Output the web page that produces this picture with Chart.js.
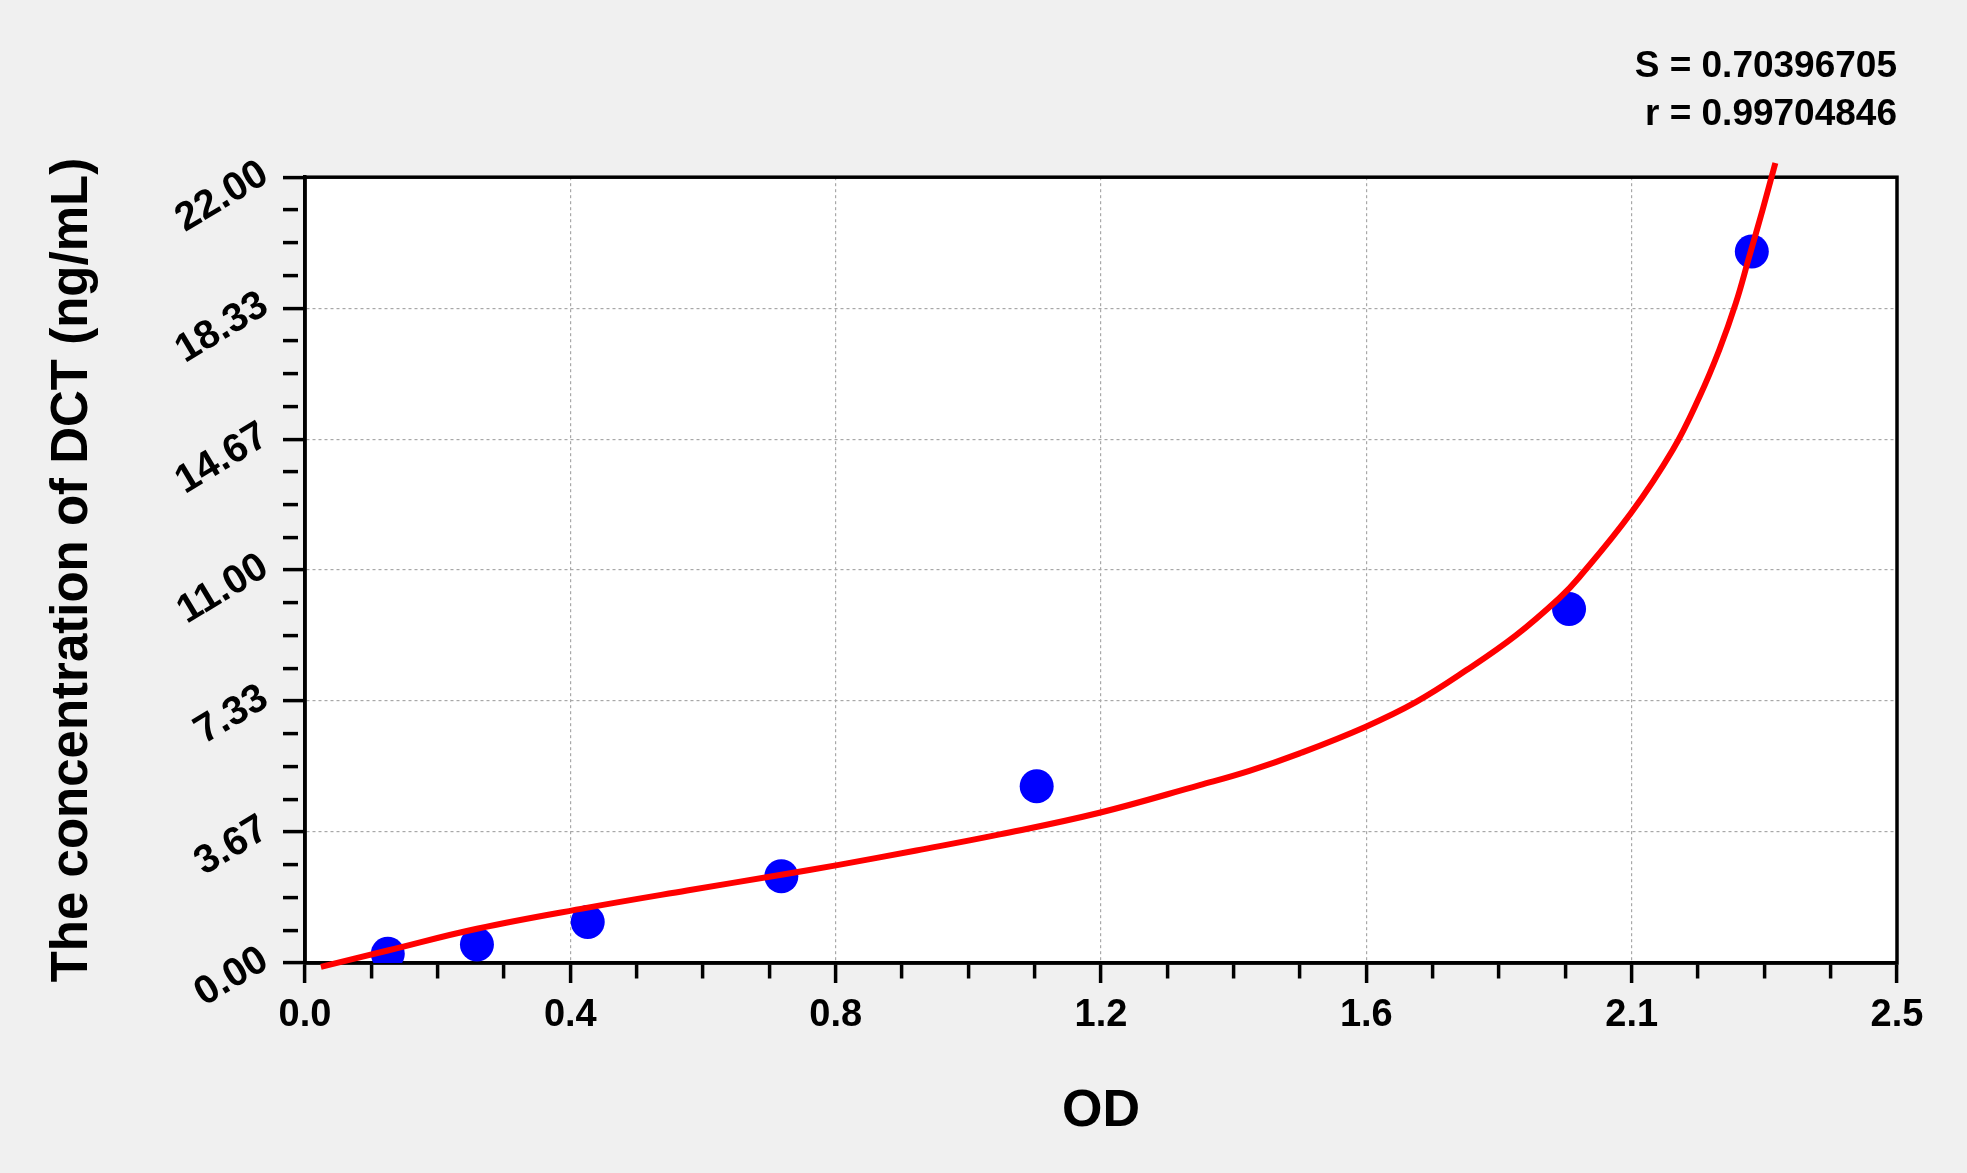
<!doctype html>
<html>
<head>
<title>DCT standard curve</title>
<script src="https://cdn.jsdelivr.net/npm/chart.js@4/dist/chart.umd.min.js"></script>
<style>
  body { margin: 0; background: #f0f0f0; }
  canvas { display: block; }
</style>
</head>
<body>
<canvas id="mycanvas" width="1967" height="1173"></canvas>
<script>
// standard points (OD vs concentration)
var odValues   = [0.130, 0.270, 0.444, 0.748, 1.149, 1.985, 2.272];
var concValues = [0.26, 0.52, 1.15, 2.43, 4.95, 9.91, 19.92];

// fitted curve
var curveOd   = [0.025, 0.130, 0.270, 0.444, 0.600, 0.748, 0.836, 0.960, 1.091, 1.246, 1.405, 1.483, 1.562, 1.665, 1.745, 1.824, 1.902, 1.970, 2.001, 2.082, 2.148, 2.190, 2.221, 2.247, 2.268, 2.289, 2.309];
var curveConc = [-0.11, 0.35, 0.96, 1.55, 2.03, 2.47, 2.74, 3.15, 3.60, 4.20, 4.98, 5.38, 5.87, 6.61, 7.31, 8.20, 9.18, 10.22, 10.80, 12.59, 14.37, 15.86, 17.17, 18.48, 19.78, 21.09, 22.40];

var xTickLabels = ['0.0', '0.4', '0.8', '1.2', '1.6', '2.1', '2.5'];
var yTickLabels = ['0.00', '3.67', '7.33', '11.00', '14.67', '18.33', '22.00'];
var xMax = 2.5, yMax = 22;
var minorPerMajor = 4;

var fitText = ['S = 0.70396705', 'r = 0.99704846'];

var FONT = "'Liberation Sans', Arial, sans-serif";

function toPoints(xs, ys) {
  return xs.map(function (x, i) { return { x: x, y: ys[i] }; });
}

// major + minor ticks on one axis, minor ones get a short dashed tick
function buildTicks(max, labels) {
  return function (scale) {
    var n = (labels.length - 1) * minorPerMajor;
    var t = [];
    for (var i = 0; i <= n; i++) t.push({ value: i * max / n });
    scale.ticks = t;
  };
}
function isMajor(ctx) { return ctx.index % minorPerMajor === 0; }

var framePlugin = {
  id: 'frame',
  beforeDraw: function (chart) {
    var a = chart.chartArea, c = chart.ctx;
    c.save();
    c.fillStyle = '#ffffff';
    c.fillRect(a.left, a.top, a.right - a.left, a.bottom - a.top);
    c.restore();
  },
  beforeDatasetsDraw: function (chart) {
    var a = chart.chartArea, c = chart.ctx;
    c.save();
    c.strokeStyle = '#000';
    c.lineWidth = 3.5;
    c.strokeRect(a.left, a.top, a.right - a.left, a.bottom - a.top);
    c.restore();
  }
};

var ctx = document.getElementById('mycanvas');
var chart = new Chart(ctx, {
  type: 'scatter',
  data: {
    datasets: [
      {
        label: 'fit',
        data: toPoints(curveOd, curveConc),
        showLine: true,
        borderColor: '#ff0000',
        borderWidth: 6,
        pointRadius: 0,
        tension: 0.4,
        clip: false,
        order: 0
      },
      {
        label: 'standards',
        data: toPoints(odValues, concValues),
        backgroundColor: '#0000ff',
        borderColor: '#0000ff',
        pointRadius: 17,
        pointBorderWidth: 0,
        order: 1
      }
    ]
  },
  options: {
    responsive: false,
    devicePixelRatio: 1,
    animation: false,
    layout: { padding: { left: 20, right: 70, top: 15, bottom: 0 } },
    plugins: {
      legend: { display: false },
      tooltip: { enabled: false },
      title: {
        display: true,
        text: fitText,
        align: 'end',
        color: '#000',
        font: { family: FONT, size: 37, weight: 'bold', lineHeight: 1.3 },
        padding: { top: 28, bottom: 38 }
      }
    },
    scales: {
      x: {
        type: 'linear',
        min: 0,
        max: xMax,
        afterBuildTicks: buildTicks(xMax, xTickLabels),
        afterFit: function (s) { s.height = 210; },
        border: { display: true, color: '#000', width: 3.5, dash: [3, 3] },
        grid: {
          color: function (c) { return isMajor(c) ? '#a8a8a8' : 'rgba(0,0,0,0)'; },
          lineWidth: 1.2,
          tickLength: 20,
          tickWidth: 3.5,
          tickColor: '#000',
          tickBorderDash: function (c) { return isMajor(c) ? [] : [14, 100]; }
        },
        ticks: {
          autoSkip: false,
          maxRotation: 0,
          minRotation: 0,
          padding: 10,
          color: '#000',
          font: { family: FONT, size: 38, weight: 'bold' },
          callback: function (v, i) { return i % minorPerMajor === 0 ? xTickLabels[i / minorPerMajor] : ''; }
        },
        title: {
          display: true,
          text: 'OD',
          color: '#000',
          font: { family: FONT, size: 52, weight: 'bold' },
          padding: { top: 0, bottom: 30 }
        }
      },
      y: {
        type: 'linear',
        min: 0,
        max: yMax,
        afterBuildTicks: buildTicks(yMax, yTickLabels),
        afterFit: function (s) { s.width = 285; },
        border: { display: true, color: '#000', width: 3.5, dash: [3, 3] },
        grid: {
          color: function (c) { return isMajor(c) ? '#a8a8a8' : 'rgba(0,0,0,0)'; },
          lineWidth: 1.2,
          tickLength: 22,
          tickWidth: 3.5,
          tickColor: '#000',
          tickBorderDash: function (c) { return isMajor(c) ? [] : [15, 100]; }
        },
        ticks: {
          autoSkip: false,
          minRotation: 31,
          maxRotation: 31,
          padding: 18,
          labelOffset: -6,
          color: '#000',
          font: { family: FONT, size: 40, weight: 'bold' },
          callback: function (v, i) { return i % minorPerMajor === 0 ? yTickLabels[i / minorPerMajor] : ''; }
        },
        title: {
          display: true,
          text: 'The concentration of DCT (ng/mL)',
          color: '#000',
          font: { family: FONT, size: 51, weight: 'bold' },
          padding: { top: 22, bottom: 0 }
        }
      }
    }
  },
  plugins: [framePlugin]
});
</script>
</body>
</html>
